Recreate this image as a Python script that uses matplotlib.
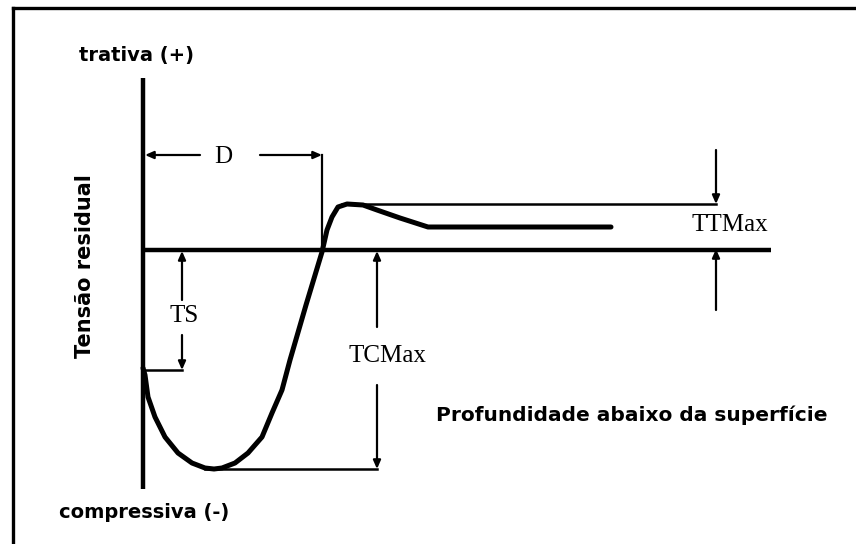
import numpy as np
import matplotlib
matplotlib.use("Agg")
import matplotlib.pyplot as plt
from matplotlib.lines import Line2D

# schematic residual stress profile (depth below surface vs stress, arbitrary units)
depth = [0, 2, 5, 12, 22, 35, 49, 62, 71, 79, 92, 105, 119, 129, 139, 147, 163,
         179, 184, 189, 195, 204, 220, 234, 257, 285, 468]
stress = [-118, -125, -147, -167, -187, -203, -213, -218, -219, -218, -213, -203,
          -187, -163, -140, -110, -55, -2, 20, 33, 43, 46, 45, 40, 32, 23, 23]

ts = -120        # surface stress
tc_max = -219    # max compressive
tc_depth = 62
tt_max = 46      # max tensile
tt_depth = 199
d_depth = 179    # depth where stress crosses zero

sans = "DejaVu Sans"
serif = "Liberation Serif"

fig = plt.figure(figsize=(8.56, 5.44), dpi=100)
ax = fig.add_axes([0, 0, 1, 1])
ax.set_xlim(-143, 713)
ax.set_ylim(-294, 250)
ax.axis("off")

# frame (top and left only)
fig.add_artist(Line2D([13 / 856, 1], [1 - 8 / 544, 1 - 8 / 544], color="black", lw=2.4,
                      transform=fig.transFigure))
fig.add_artist(Line2D([13 / 856, 13 / 856], [0, 1 - 8 / 544], color="black", lw=2.4,
                      transform=fig.transFigure, solid_capstyle="projecting"))

# axes
ax.plot([0, 0], [172, -239], color="black", lw=3.2, solid_capstyle="butt")
ax.plot([0, 628], [0, 0], color="black", lw=3.2, solid_capstyle="butt")

# curve
ax.plot(depth, stress, color="black", lw=3.6, solid_joinstyle="round", solid_capstyle="round")

arrow = dict(arrowstyle="-|>,head_length=0.5,head_width=0.22", color="black", lw=1.6,
             shrinkA=0, shrinkB=0)

# D
ax.plot([d_depth, d_depth], [95, 0], color="black", lw=1.6)
ax.annotate("", xy=(2, 95), xytext=(57, 95), arrowprops=arrow)
ax.annotate("", xy=(d_depth, 95), xytext=(117, 95), arrowprops=arrow)
ax.text(80, 93, "D", family=serif, fontsize=18, ha="center", va="center")

# TS
ax.plot([0, 39], [ts, ts], color="black", lw=1.8)
ax.annotate("", xy=(39, -1), xytext=(39, -50), arrowprops=arrow)
ax.annotate("", xy=(39, ts), xytext=(39, -85), arrowprops=arrow)
ax.text(41, -66, "TS", family=serif, fontsize=18, ha="center", va="center")

# TCMax
ax.plot([tc_depth, 234], [tc_max, tc_max], color="black", lw=1.8)
ax.annotate("", xy=(234, -1), xytext=(234, -77), arrowprops=arrow)
ax.annotate("", xy=(234, tc_max), xytext=(234, -135), arrowprops=arrow)
ax.text(244, -106, "TCMax", family=serif, fontsize=18, ha="center", va="center")

# TTMax
ax.plot([tt_depth, 573], [tt_max, tt_max], color="black", lw=1.8)
ax.annotate("", xy=(573, tt_max), xytext=(573, 100), arrowprops=arrow)
ax.annotate("", xy=(573, 1), xytext=(573, -60), arrowprops=arrow)
ax.text(587, 25, "TTMax", family=serif, fontsize=18, ha="center", va="center")

# labels
ax.text(-6, 195, "trativa (+)", family=sans, weight="bold", fontsize=14,
        ha="center", va="center")
ax.text(1, -262, "compressiva (-)", family=sans, weight="bold", fontsize=14,
        ha="center", va="center")
ax.text(-58, -16, "Tensão residual", family=sans, weight="bold", fontsize=15,
        ha="center", va="center", rotation=90)
ax.text(489, -165, "Profundidade abaixo da superfície", family=sans, weight="bold",
        fontsize=14.5, ha="center", va="center")

fig.savefig("out.png", dpi=100)
